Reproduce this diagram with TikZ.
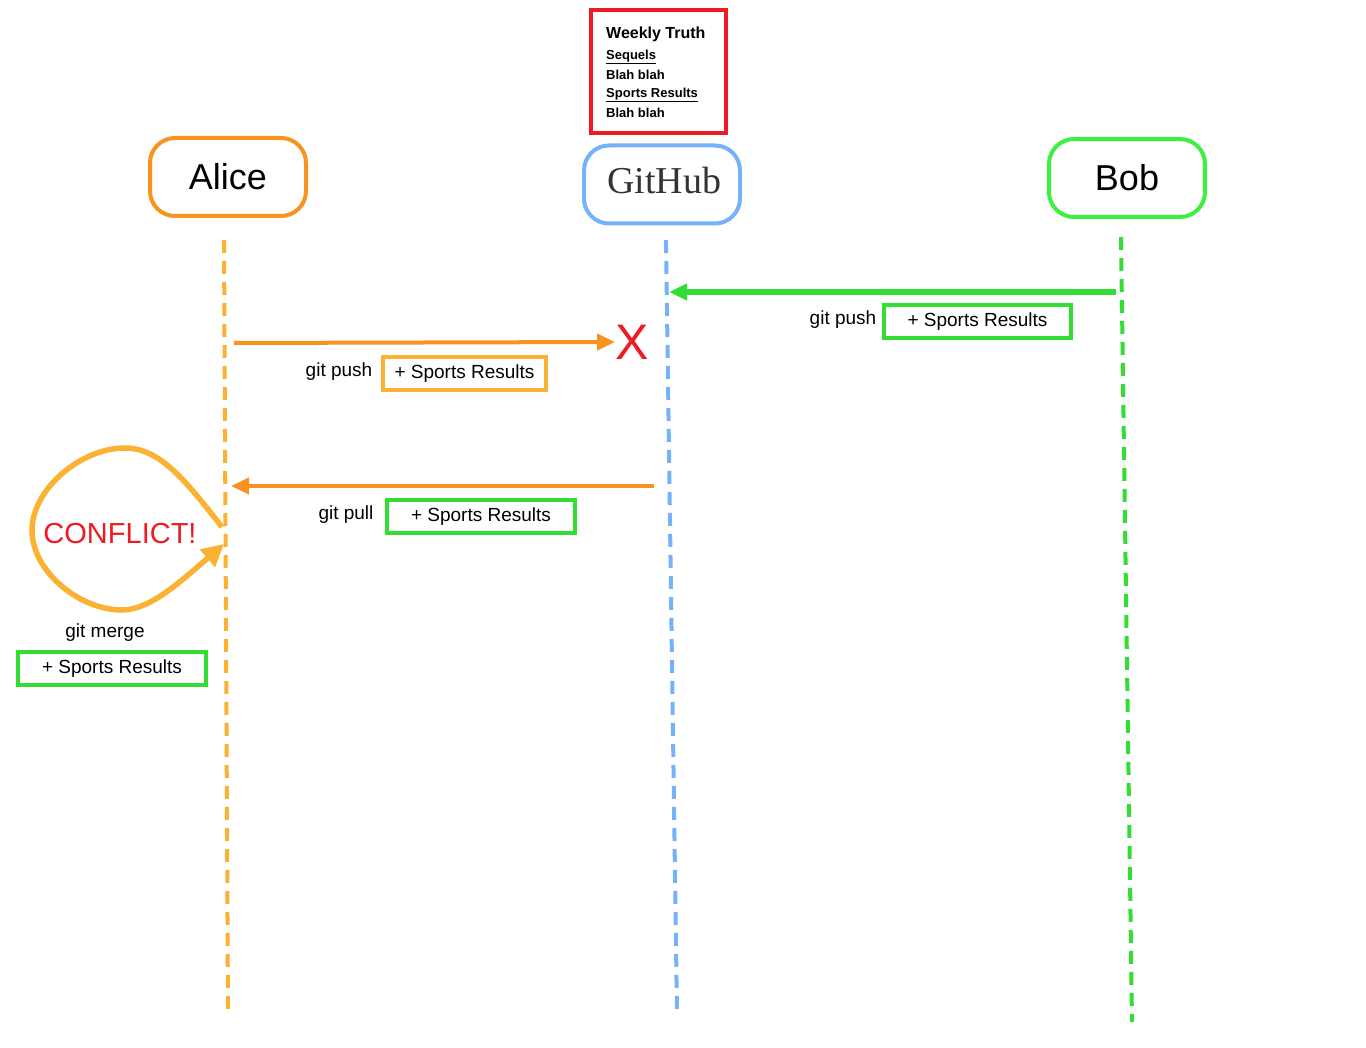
\documentclass[tikz,border=0pt]{standalone}
\usepackage{fontspec}
\setmainfont{Liberation Sans}
\newfontfamily\serifgh{Liberation Serif}
\usetikzlibrary{arrows.meta}
\definecolor{aliceor}{HTML}{F7931E}
\definecolor{alicey}{HTML}{FBB131}
\definecolor{ghblue}{HTML}{74B2FA}
\definecolor{bobgreen}{HTML}{3DF03D}
\definecolor{grn}{HTML}{33DD33}
\definecolor{redx}{HTML}{ED1C24}
\tikzset{
  actor/.style={draw, line width=4pt, rounded corners=25pt, minimum width=156pt, minimum height=78pt, inner sep=0pt, font=\fontsize{36}{40}\selectfont},
  life/.style={line width=4pt, dash pattern=on 13pt off 8pt},
  msg/.style={line width=4pt, -{Triangle[length=18pt,width=16pt]}},
  lbl/.style={inner sep=0pt, font=\fontsize{19}{22}\selectfont},
  cbox/.style={draw, line width=4pt, inner sep=0pt, font=\fontsize{19}{22}\selectfont},
  small/.style={inner sep=0pt, anchor=west, font=\fontsize{13}{15}\selectfont\bfseries},
}
\begin{document}
\begin{tikzpicture}[x=1pt,y=-1pt]
\useasboundingbox (0,0) rectangle (1366,1048);
% newspaper box
\node[draw=redx, line width=4pt, minimum width=135pt, minimum height=123pt, inner sep=0pt] (paper) at (658.5,71.5) {};
\node[small, font=\fontsize{16}{18}\selectfont\bfseries] (t1) at (606,34) {Weekly Truth};
\node[small] (t2) at (606,57) {\underline{Sequels}};
\node[small] (t3) at (606,75) {Blah blah};
\node[small] (t4) at (606,95) {\underline{Sports Results}};
\node[small] (t5) at (606,113) {Blah blah};
% actors
\node[actor, draw=aliceor] (alice) at (228,177) {Alice};
\node[actor, draw=ghblue] (gh) at (662,184.5) {};
\node[inner sep=0pt, font=\fontsize{38}{42}\selectfont\serifgh, text=black!80] (ghtext) at (664,181) {GitHub};
\node[actor, draw=bobgreen] (bob) at (1127,178) {Bob};
% lifelines
\coordinate (a1) at (224,240); \coordinate (a2) at (228,1015);
\coordinate (g1) at (666,240); \coordinate (g2) at (677,1015);
\coordinate (b1) at (1121,237); \coordinate (b2) at (1132,1022);
\draw[life, alicey] (a1) -- (a2);
\draw[life, ghblue] (g1) -- (g2);
\draw[life, grn] (b1) -- (b2);
% Bob push
\coordinate (bp1) at (1116,292); \coordinate (bp2) at (669,292);
\draw[msg, grn, line width=6pt] (bp1) -- (bp2);
\node[lbl] (bpl) at (843,320) {git push};
\node[cbox, draw=grn, minimum width=187pt, minimum height=33pt] (bpb) at (977.5,321.5) {+ Sports Results};
% Alice push
\node[text=redx, inner sep=0pt, font=\fontsize{50}{52}\selectfont] (xx) at (632,342) {X};
\coordinate (ap1) at (234,343);
\draw[msg, aliceor] (ap1) -- (xx.west);
\node[lbl] (apl) at (339,372) {git push};
\node[cbox, draw=alicey, minimum width=163pt, minimum height=33pt] (apb) at (464.5,373.5) {+ Sports Results};
% pull
\coordinate (pl1) at (654,486); \coordinate (pl2) at (231,486);
\draw[msg, aliceor] (pl1) -- (pl2);
\node[lbl] (pll) at (346,515) {git pull};
\node[cbox, draw=grn, minimum width=188pt, minimum height=33pt] (plb) at (481,516.5) {+ Sports Results};
% conflict loop
\coordinate (c1) at (222,527); \coordinate (c2) at (224,544);
\draw[alicey, line width=5.5pt, -{Triangle[length=22pt,width=22pt]}]
  (c1) .. controls (185,480) and (160,448) .. (125,448)
       .. controls (80,448) and (32,490) .. (32,530)
       .. controls (32,572) and (80,610) .. (122,610)
       .. controls (150,610) and (180,582) .. (c2);
\node[text=redx, inner sep=0pt, font=\fontsize{29}{32}\selectfont] (conf) at (120,534) {CONFLICT!};
\node[lbl] (gml) at (105,633) {git merge};
\node[cbox, draw=grn, minimum width=188pt, minimum height=33pt] (gmb) at (112,668.5) {+ Sports Results};
\end{tikzpicture}
\end{document}
